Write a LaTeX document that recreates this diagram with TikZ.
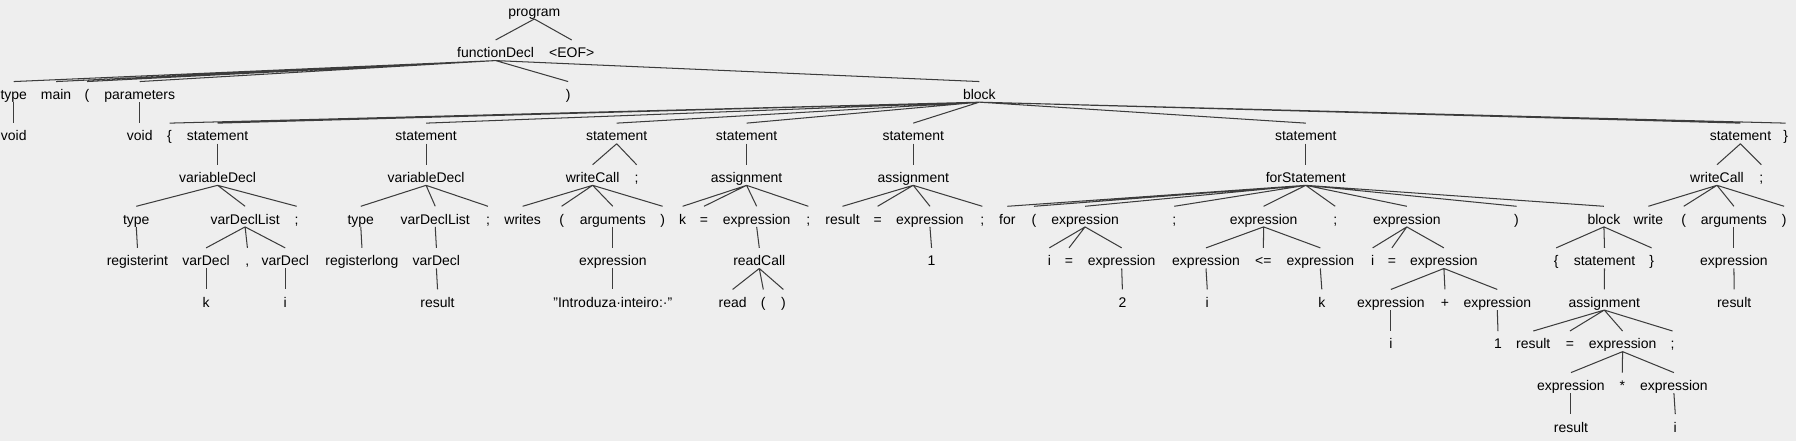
\documentclass[tikz,border=0pt]{standalone}
\usepackage{fontspec}
\setmainfont{Liberation Sans}
\definecolor{bggray}{RGB}{238,238,238}
\definecolor{edgegray}{RGB}{60,60,60}
\tikzset{
  tnode/.style={anchor=base, inner sep=0pt, text height=15.4pt, text depth=2.2pt,
    font=\fontsize{12.2}{14}\selectfont, text=black},
  tedge/.style={draw=edgegray, line width=0.9pt}
}
\begin{document}
\begin{tikzpicture}[x=1pt, y=1pt]
        \fill[bggray] (0,0) rectangle (1568,-385);
        \useasboundingbox (0,0) rectangle (1568,-385);
        % level 0 and 1
        \node[tnode] (program) at (466.5,-14.2) {program};
        \node[tnode] (fdecl) at (432.7,-50.5) {functionDecl};
        \node[tnode] (eof) at (499.1,-50.5) {<EOF>};
        % level 2
        \node[tnode] (type1) at (12,-86.8) {type};
        \node[tnode] (mainkw) at (49,-86.8) {main};
        \node[tnode] (lpar1) at (76,-86.8) {(};
        \node[tnode] (params) at (122,-86.8) {parameters};
        \node[tnode] (rpar1) at (496,-86.8) {)};
        \node[tnode] (block1) at (855,-86.8) {block};
        % level 3
        \node[tnode] (void1) at (12,-123.1) {void};
        \node[tnode] (void2) at (122,-123.1) {void};
        \node[tnode] (lbr1) at (148,-123.1) {\{};
        \node[tnode] (st1) at (190,-123.1) {statement};
        \node[tnode] (st2) at (372,-123.1) {statement};
        \node[tnode] (st3) at (538.4,-123.1) {statement};
        \node[tnode] (st4) at (651.8,-123.1) {statement};
        \node[tnode] (st5) at (797.3,-123.1) {statement};
        \node[tnode] (st6) at (1140,-123.1) {statement};
        \node[tnode] (st7) at (1519.5,-123.1) {statement};
        \node[tnode] (rbr1) at (1559,-123.1) {\}};
        % level 4
        \node[tnode] (vd1) at (190,-159.4) {variableDecl};
        \node[tnode] (vd2) at (372,-159.4) {variableDecl};
        \node[tnode] (wc1) at (517.4,-159.4) {writeCall};
        \node[tnode] (semi1) at (555.8,-159.4) {;};
        \node[tnode] (asg1) at (651.8,-159.4) {assignment};
        \node[tnode] (asg2) at (797.3,-159.4) {assignment};
        \node[tnode] (forst) at (1140,-159.4) {forStatement};
        \node[tnode] (wc2) at (1499,-159.4) {writeCall};
        \node[tnode] (semi2) at (1537.7,-159.4) {;};
        % level 5
        \node[tnode] (ty2) at (119,-195.7) {type};
        \node[tnode] (vdl1) at (214,-195.7) {varDeclList};
        \node[tnode] (semi3) at (259,-195.7) {;};
        \node[tnode] (ty3) at (315,-195.7) {type};
        \node[tnode] (vdl2) at (380,-195.7) {varDeclList};
        \node[tnode] (semi4) at (426,-195.7) {;};
        \node[tnode] (writes) at (456.3,-195.7) {writes};
        \node[tnode] (lpar2) at (490.3,-195.7) {(};
        \node[tnode] (args1) at (535,-195.7) {arguments};
        \node[tnode] (rpar2) at (578.5,-195.7) {)};
        \node[tnode] (kid) at (596,-195.7) {k};
        \node[tnode] (eq1) at (614.6,-195.7) {=};
        \node[tnode] (ex1) at (660.6,-195.7) {expression};
        \node[tnode] (semi5) at (705.7,-195.7) {;};
        \node[tnode] (res1) at (735.6,-195.7) {result};
        \node[tnode] (eq2) at (766.2,-195.7) {=};
        \node[tnode] (ex2) at (811.9,-195.7) {expression};
        \node[tnode] (semi6) at (857.6,-195.7) {;};
        \node[tnode] (forkw) at (879.5,-195.7) {for};
        \node[tnode] (lpar3) at (902.7,-195.7) {(};
        \node[tnode] (ex3) at (947.3,-195.7) {expression};
        \node[tnode] (semi7) at (1025.2,-195.7) {;};
        \node[tnode] (ex4) at (1103.2,-195.7) {expression};
        \node[tnode] (semi8) at (1165.7,-195.7) {;};
        \node[tnode] (ex5) at (1228.2,-195.7) {expression};
        \node[tnode] (rpar3) at (1324,-195.7) {)};
        \node[tnode] (block2) at (1400.3,-195.7) {block};
        \node[tnode] (write) at (1439.1,-195.7) {write};
        \node[tnode] (lpar4) at (1470,-195.7) {(};
        \node[tnode] (args2) at (1513.8,-195.7) {arguments};
        \node[tnode] (rpar4) at (1557.6,-195.7) {)};
        % level 6
        \node[tnode] (regint) at (120,-232) {registerint};
        \node[tnode] (vdc1) at (180,-232) {varDecl};
        \node[tnode] (comma) at (216,-232) {,};
        \node[tnode] (vdc2) at (249,-232) {varDecl};
        \node[tnode] (reglong) at (316,-232) {registerlong};
        \node[tnode] (vdc3) at (381,-232) {varDecl};
        \node[tnode] (ex6) at (535,-232) {expression};
        \node[tnode] (readc) at (662.9,-232) {readCall};
        \node[tnode] (one1) at (813.3,-232) {1};
        \node[tnode] (i1) at (916.1,-232) {i};
        \node[tnode] (eq3) at (933.3,-232) {=};
        \node[tnode] (ex7) at (979.3,-232) {expression};
        \node[tnode] (ex8) at (1052.9,-232) {expression};
        \node[tnode] (le) at (1103,-232) {<=};
        \node[tnode] (ex9) at (1152.7,-232) {expression};
        \node[tnode] (i2) at (1198.4,-232) {i};
        \node[tnode] (eq4) at (1215.2,-232) {=};
        \node[tnode] (ex10) at (1260.6,-232) {expression};
        \node[tnode] (lbr2) at (1358.6,-232) {\{};
        \node[tnode] (st8) at (1400.8,-232) {statement};
        \node[tnode] (rbr2) at (1441.9,-232) {\}};
        \node[tnode] (ex11) at (1513.8,-232) {expression};
        % level 7
        \node[tnode] (k1) at (180,-268.3) {k};
        \node[tnode] (i3) at (249,-268.3) {i};
        \node[tnode] (res2) at (382,-268.3) {result};
        \node[tnode] (str) at (535,-268.3) {"Introduza·inteiro:·"};
        \node[tnode] (readkw) at (639.6,-268.3) {read};
        \node[tnode] (lpar5) at (666.4,-268.3) {(};
        \node[tnode] (rpar5) at (683.9,-268.3) {)};
        \node[tnode] (two) at (979.9,-268.3) {2};
        \node[tnode] (i4) at (1054,-268.3) {i};
        \node[tnode] (k2) at (1154,-268.3) {k};
        \node[tnode] (ex12) at (1214.3,-268.3) {expression};
        \node[tnode] (plus) at (1261.5,-268.3) {+};
        \node[tnode] (ex13) at (1307.2,-268.3) {expression};
        \node[tnode] (asg3) at (1400.6,-268.3) {assignment};
        \node[tnode] (res3) at (1514,-268.3) {result};
        % level 8 to 10
        \node[tnode] (i5) at (1214.3,-304.6) {i};
        \node[tnode] (one2) at (1307.8,-304.6) {1};
        \node[tnode] (res4) at (1338.6,-304.6) {result};
        \node[tnode] (eq5) at (1370.6,-304.6) {=};
        \node[tnode] (ex14) at (1416.6,-304.6) {expression};
        \node[tnode] (semi9) at (1460.2,-304.6) {;};
        \node[tnode] (ex15) at (1371.5,-340.9) {expression};
        \node[tnode] (times) at (1416.3,-340.9) {*};
        \node[tnode] (ex16) at (1461.4,-340.9) {expression};
        \node[tnode] (res5) at (1371.5,-377.2) {result};
        \node[tnode] (i6) at (1462.6,-377.2) {i};
        % edges
        \draw[tedge] (program.south) -- (fdecl.north) (program.south) -- (eof.north);
        \draw[tedge] (fdecl.south) -- (type1.north) (fdecl.south) -- (mainkw.north)
          (fdecl.south) -- (lpar1.north) (fdecl.south) -- (params.north)
          (fdecl.south) -- (rpar1.north) (fdecl.south) -- (block1.north);
        \draw[tedge] (type1.south) -- (void1.north);
        \draw[tedge] (params.south) -- (void2.north);
        \draw[tedge] (block1.south) -- (lbr1.north) (block1.south) -- (st1.north)
          (block1.south) -- (st2.north) (block1.south) -- (st3.north)
          (block1.south) -- (st4.north) (block1.south) -- (st5.north)
          (block1.south) -- (st6.north) (block1.south) -- (st7.north)
          (block1.south) -- (rbr1.north);
        \draw[tedge] (st1.south) -- (vd1.north);
        \draw[tedge] (st2.south) -- (vd2.north);
        \draw[tedge] (st3.south) -- (wc1.north) (st3.south) -- (semi1.north);
        \draw[tedge] (st4.south) -- (asg1.north);
        \draw[tedge] (st5.south) -- (asg2.north);
        \draw[tedge] (st6.south) -- (forst.north);
        \draw[tedge] (st7.south) -- (wc2.north) (st7.south) -- (semi2.north);
        \draw[tedge] (vd1.south) -- (ty2.north) (vd1.south) -- (vdl1.north) (vd1.south) -- (semi3.north);
        \draw[tedge] (vd2.south) -- (ty3.north) (vd2.south) -- (vdl2.north) (vd2.south) -- (semi4.north);
        \draw[tedge] (wc1.south) -- (writes.north) (wc1.south) -- (lpar2.north)
          (wc1.south) -- (args1.north) (wc1.south) -- (rpar2.north);
        \draw[tedge] (asg1.south) -- (kid.north) (asg1.south) -- (eq1.north)
          (asg1.south) -- (ex1.north) (asg1.south) -- (semi5.north);
        \draw[tedge] (asg2.south) -- (res1.north) (asg2.south) -- (eq2.north)
          (asg2.south) -- (ex2.north) (asg2.south) -- (semi6.north);
        \draw[tedge] (forst.south) -- (forkw.north) (forst.south) -- (lpar3.north)
          (forst.south) -- (ex3.north) (forst.south) -- (semi7.north)
          (forst.south) -- (ex4.north) (forst.south) -- (semi8.north)
          (forst.south) -- (ex5.north) (forst.south) -- (rpar3.north)
          (forst.south) -- (block2.north);
        \draw[tedge] (wc2.south) -- (write.north) (wc2.south) -- (lpar4.north)
          (wc2.south) -- (args2.north) (wc2.south) -- (rpar4.north);
        \draw[tedge] (ty2.south) -- (regint.north);
        \draw[tedge] (vdl1.south) -- (vdc1.north) (vdl1.south) -- (comma.north) (vdl1.south) -- (vdc2.north);
        \draw[tedge] (ty3.south) -- (reglong.north);
        \draw[tedge] (vdl2.south) -- (vdc3.north);
        \draw[tedge] (args1.south) -- (ex6.north);
        \draw[tedge] (ex1.south) -- (readc.north);
        \draw[tedge] (ex2.south) -- (one1.north);
        \draw[tedge] (ex3.south) -- (i1.north) (ex3.south) -- (eq3.north) (ex3.south) -- (ex7.north);
        \draw[tedge] (ex4.south) -- (ex8.north) (ex4.south) -- (le.north) (ex4.south) -- (ex9.north);
        \draw[tedge] (ex5.south) -- (i2.north) (ex5.south) -- (eq4.north) (ex5.south) -- (ex10.north);
        \draw[tedge] (block2.south) -- (lbr2.north) (block2.south) -- (st8.north) (block2.south) -- (rbr2.north);
        \draw[tedge] (args2.south) -- (ex11.north);
        \draw[tedge] (vdc1.south) -- (k1.north);
        \draw[tedge] (vdc2.south) -- (i3.north);
        \draw[tedge] (vdc3.south) -- (res2.north);
        \draw[tedge] (ex6.south) -- (str.north);
        \draw[tedge] (readc.south) -- (readkw.north) (readc.south) -- (lpar5.north) (readc.south) -- (rpar5.north);
        \draw[tedge] (ex7.south) -- (two.north);
        \draw[tedge] (ex8.south) -- (i4.north);
        \draw[tedge] (ex9.south) -- (k2.north);
        \draw[tedge] (ex10.south) -- (ex12.north) (ex10.south) -- (plus.north) (ex10.south) -- (ex13.north);
        \draw[tedge] (st8.south) -- (asg3.north);
        \draw[tedge] (ex11.south) -- (res3.north);
        \draw[tedge] (ex12.south) -- (i5.north);
        \draw[tedge] (ex13.south) -- (one2.north);
        \draw[tedge] (asg3.south) -- (res4.north) (asg3.south) -- (eq5.north)
          (asg3.south) -- (ex14.north) (asg3.south) -- (semi9.north);
        \draw[tedge] (ex14.south) -- (ex15.north) (ex14.south) -- (times.north) (ex14.south) -- (ex16.north);
        \draw[tedge] (ex15.south) -- (res5.north);
        \draw[tedge] (ex16.south) -- (i6.north);
\end{tikzpicture}
\end{document}
